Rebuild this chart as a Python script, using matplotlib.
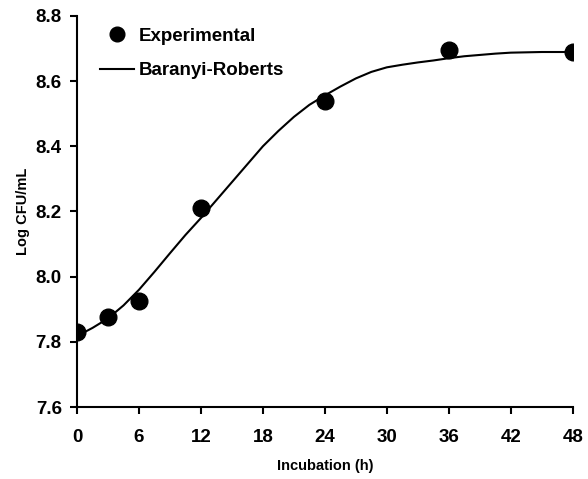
import numpy as np
import matplotlib.pyplot as plt

plt.rcParams['font.family'] = ['Liberation Sans', 'DejaVu Sans']
plt.rcParams['font.weight'] = 'bold'

# experimental points
t_exp = [0, 3, 6, 12, 24, 36, 48]
logcfu_exp = [7.83, 7.876, 7.925, 8.21, 8.54, 8.694, 8.69]

# Baranyi-Roberts fitted curve
t_fit = [0, 1.5, 3, 4.5, 6, 7.5, 9, 10.5, 12, 13.5, 15, 16.5, 18, 19.5, 21,
         22.5, 24, 25.5, 27, 28.5, 30, 31.5, 33, 34.5, 36, 37.5, 39, 40.5,
         42, 43.5, 45, 46.5, 48]
logcfu_fit = [7.818, 7.843, 7.872, 7.912, 7.96, 8.015, 8.072, 8.128, 8.18,
              8.235, 8.29, 8.345, 8.40, 8.447, 8.49, 8.527, 8.556, 8.583,
              8.608, 8.628, 8.642, 8.650, 8.657, 8.663, 8.670, 8.676, 8.680,
              8.684, 8.687, 8.688, 8.689, 8.689, 8.689]

fig = plt.figure(figsize=(5.88, 4.79), dpi=100)
ax = fig.add_axes([0.131, 0.150, 0.843, 0.817])

ax.plot(t_exp, logcfu_exp, 'o', color='black', markersize=12, label='Experimental', zorder=3)
ax.plot(t_fit, logcfu_fit, '-', color='black', linewidth=1.5, label='Baranyi-Roberts')

ax.set_xlim(0, 48)
ax.set_ylim(7.6, 8.8)
ax.set_xticks(np.arange(0, 49, 6))
ax.set_yticks(np.arange(7.6, 8.81, 0.2))
ax.set_yticklabels(['7.6', '7.8', '8.0', '8.2', '8.4', '8.6', '8.8'])

for s in ['top', 'right']:
    ax.spines[s].set_visible(False)
for s in ['left', 'bottom']:
    ax.spines[s].set_linewidth(1.5)
ax.tick_params(direction='out', length=5, width=1.5, labelsize=13.5)
ax.tick_params(axis='x', pad=11)
ax.tick_params(axis='y', pad=6)
for lab in ax.get_xticklabels() + ax.get_yticklabels():
    lab.set_fontweight('bold')

ax.set_xlabel('Incubation (h)', fontsize=10.5, fontweight='bold', labelpad=9)
ax.set_ylabel('Log CFU/mL', fontsize=10.5, fontweight='bold', labelpad=4)

leg = ax.legend(loc='upper left', frameon=False, fontsize=13.5, handlelength=1.8,
                handletextpad=0.25, bbox_to_anchor=(0.02, 1.003), labelspacing=0.92,
                markerscale=0.88, borderaxespad=0.3)
for txt in leg.get_texts():
    txt.set_fontweight('bold')

fig.savefig('out.png', dpi=100)
